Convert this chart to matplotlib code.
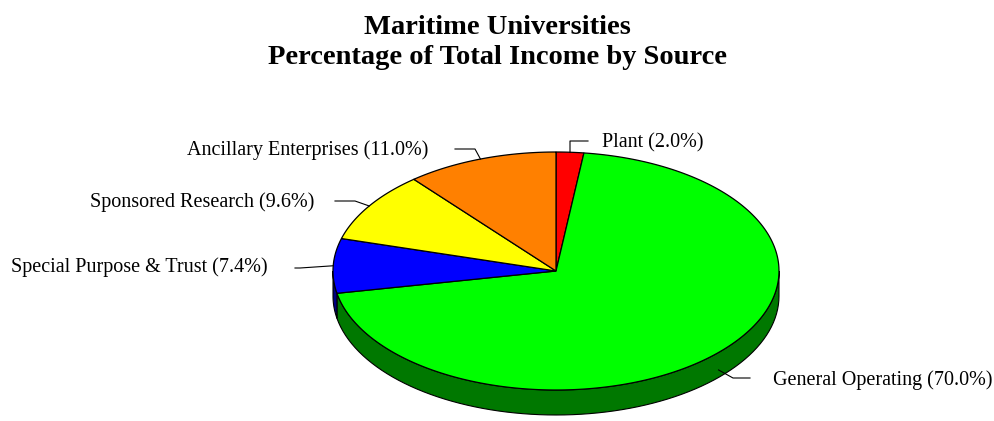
import numpy as np
import matplotlib.pyplot as plt
from matplotlib.patches import Polygon

# income share by source, in drawing order (clockwise from 12 o'clock)
sources = ['Plant', 'General Operating', 'Special Purpose & Trust',
           'Sponsored Research', 'Ancillary Enterprises']
shares = [2.0, 70.0, 7.4, 9.6, 11.0]

top_colors = ['#ff0000', '#00ff00', '#0000ff', '#ffff00', '#ff8000']
side_colors = ['#800000', '#007800', '#000080', '#808000', '#804000']

# pie geometry in pixel units
cx, cy = 556, 271
rx, ry = 223, 119
depth = 25

# text position, alignment, leader start and elbow for each label
label_layout = [
    ((602, 143), 'left', (588, 141), (570, 141)),
    ((773, 380), 'left', (750, 378), (733, 378)),
    ((268, 267), 'right', (295, 268), (300, 268)),
    ((314, 202), 'right', (335, 201), (355, 201)),
    ((428, 150), 'right', (455, 149), (475, 149)),
]

plt.rcParams['font.family'] = ['Liberation Serif', 'DejaVu Serif']

fig = plt.figure(figsize=(9.95, 4.21), dpi=100)
ax = fig.add_axes([0, 0, 1, 1])
ax.set_xlim(0, 995)
ax.set_ylim(421, 0)
ax.axis('off')


def ell(theta, dy=0):
    t = np.radians(theta)
    return np.column_stack([cx + rx * np.cos(t), cy - ry * np.sin(t) + dy])


# wedge angles (degrees, math convention), going clockwise from 90
fracs = np.array(shares) / sum(shares)
ends = 90 - 360 * np.cumsum(fracs)
starts = np.concatenate([[90], ends[:-1]])

# side walls: only the front half (-180..0) is visible
for s, e, col in zip(starts, ends, side_colors):
    for shift in (0, -360, 360):
        a0, a1 = max(e + shift, -180), min(s + shift, 0)
        if a1 <= a0:
            continue
        th = np.linspace(a0, a1, 80)
        top = ell(th)
        bot = ell(th[::-1], depth)
        ax.add_patch(Polygon(np.vstack([top, bot]), closed=True,
                             facecolor=col, edgecolor='black', lw=0.8, zorder=1))

# top faces
for s, e, col in zip(starts, ends, top_colors):
    th = np.linspace(s, e, 200)
    pts = np.vstack([[cx, cy], ell(th)])
    ax.add_patch(Polygon(pts, closed=True, facecolor=col,
                         edgecolor='black', lw=0.9, zorder=2))

# labels with leader lines
for name, v, s, e, (tpos, ha, start, elbow) in zip(sources, shares, starts, ends, label_layout):
    mid = (s + e) / 2
    anchor = ell([mid])[0]
    if np.sin(np.radians(mid)) < 0:
        anchor[1] += depth * 0.7
    ax.plot([start[0], elbow[0], anchor[0]], [start[1], elbow[1], anchor[1]],
            color='black', lw=0.8, zorder=3)
    ax.text(tpos[0], tpos[1], f'{name} ({v:.1f}%)', ha=ha, va='center',
            fontsize=14.5, zorder=4)

ax.text(497, 27, 'Maritime Universities', ha='center', va='center',
        fontsize=20.5, fontweight='bold')
ax.text(497, 57, 'Percentage of Total Income by Source', ha='center', va='center',
        fontsize=20.5, fontweight='bold')

fig.savefig('out.png', dpi=100)
